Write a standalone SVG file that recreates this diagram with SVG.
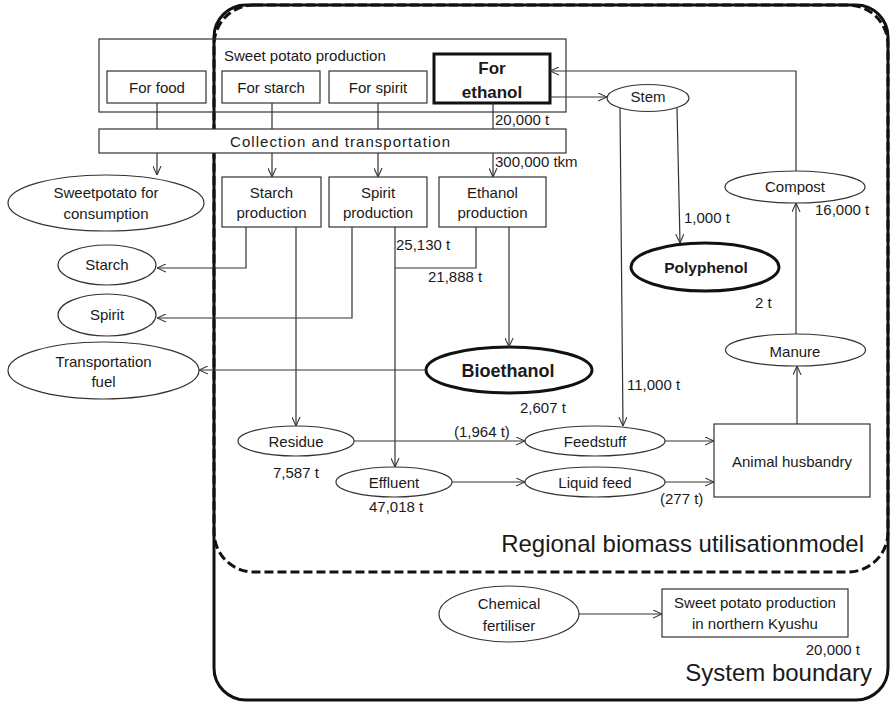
<svg xmlns="http://www.w3.org/2000/svg" width="891" height="703" viewBox="0 0 891 703">
<style>
text{font-family:"Liberation Sans",Arial,sans-serif;font-size:15px;fill:#1a1a1a}
.c{text-anchor:middle}
.b{font-weight:bold}
.big{font-size:24px;text-anchor:end}
.box{fill:#fff;stroke:#333;stroke-width:1.2}
.thick{fill:#fff;stroke:#111;stroke-width:3}
.ell{fill:#fff;stroke:#333;stroke-width:1.2}
.ln{fill:none;stroke:#333;stroke-width:1.2}
.ar{marker-end:url(#arr)}
</style>
<defs>
<marker id="arr" viewBox="0 0 10 10" refX="10" refY="5" markerWidth="9" markerHeight="9" markerUnits="userSpaceOnUse" orient="auto">
<path d="M0,0.5 L10,5 L0,9.5" fill="none" stroke="#333" stroke-width="1.2"/>
</marker>
</defs>

<g id="boundaries">
<rect x="214" y="5" width="674" height="695" rx="32" fill="none" stroke="#111" stroke-width="3"/>
<rect x="214" y="5" width="674" height="567" rx="40" fill="none" stroke="#111" stroke-width="3" stroke-dasharray="9 4"/>
<text class="big" x="864" y="552">Regional biomass utilisationmodel</text>
<text class="big" x="872" y="681">System boundary</text>
</g>

<g id="sweet-potato-production">
<rect x="99" y="39" width="467" height="73" fill="none" stroke="#333" stroke-width="1.2"/>
<text x="224" y="61">Sweet potato production</text>
</g>
<g id="for-food"><rect class="box" x="107" y="71" width="99" height="32"/><text class="c" x="157" y="93">For food</text></g>
<g id="for-starch"><rect class="box" x="222" y="71" width="98" height="32"/><text class="c" x="271" y="93">For starch</text></g>
<g id="for-spirit"><rect class="box" x="329" y="71" width="98" height="32"/><text class="c" x="378" y="93">For spirit</text></g>
<g id="for-ethanol"><rect class="thick" x="434" y="54" width="116" height="49"/><text class="c b" x="492" y="74" style="font-size:17px">For</text><text class="c b" x="492" y="98" style="font-size:17px">ethanol</text></g>

<g id="collection"><rect class="box" x="99" y="129" width="467" height="24"/><text class="c" x="340" y="147" textLength="220">Collection and transportation</text></g>

<g id="sweetpotato-consumption"><ellipse class="ell" cx="106" cy="203" rx="98" ry="28"/><text class="c" x="106" y="198">Sweetpotato for</text><text class="c" x="106" y="219">consumption</text></g>
<g id="starch-production"><rect class="box" x="222" y="177" width="99" height="50"/><text class="c" x="271.5" y="198">Starch</text><text class="c" x="271.5" y="218">production</text></g>
<g id="spirit-production"><rect class="box" x="329" y="177" width="98" height="50"/><text class="c" x="378" y="198">Spirit</text><text class="c" x="378" y="218">production</text></g>
<g id="ethanol-production"><rect class="box" x="439" y="177" width="107" height="50"/><text class="c" x="492.5" y="198">Ethanol</text><text class="c" x="492.5" y="218">production</text></g>

<g id="starch"><ellipse class="ell" cx="107" cy="265" rx="49" ry="20"/><text class="c" x="107" y="270">Starch</text></g>
<g id="spirit"><ellipse class="ell" cx="107" cy="315" rx="49" ry="21"/><text class="c" x="107" y="320">Spirit</text></g>
<g id="transportation-fuel"><ellipse class="ell" cx="103.5" cy="370.5" rx="95.5" ry="28.5"/><text class="c" x="103.5" y="367">Transportation</text><text class="c" x="103.5" y="387">fuel</text></g>

<g id="stem"><ellipse class="ell" cx="648" cy="98" rx="41" ry="13.5"/><text class="c" x="648" y="102">Stem</text></g>
<g id="compost"><ellipse class="ell" cx="795" cy="187" rx="70" ry="16"/><text class="c" x="795" y="192">Compost</text></g>
<g id="polyphenol"><ellipse class="thick" cx="705" cy="267" rx="74" ry="24"/><text class="c b" x="706" y="273" style="font-size:15.5px">Polyphenol</text></g>
<g id="bioethanol"><ellipse class="thick" cx="509" cy="370" rx="83" ry="23"/><text class="c b" x="508" y="377" style="font-size:18px">Bioethanol</text></g>
<g id="manure"><ellipse class="ell" cx="795.5" cy="350" rx="70" ry="16"/><text class="c" x="795" y="357">Manure</text></g>
<g id="residue"><ellipse class="ell" cx="296" cy="441" rx="58" ry="15"/><text class="c" x="296" y="447">Residue</text></g>
<g id="feedstuff"><ellipse class="ell" cx="595" cy="441" rx="70" ry="15"/><text class="c" x="595" y="447">Feedstuff</text></g>
<g id="effluent"><ellipse class="ell" cx="394" cy="482" rx="58" ry="15"/><text class="c" x="394" y="488">Effluent</text></g>
<g id="liquid-feed"><ellipse class="ell" cx="595" cy="482" rx="70" ry="15"/><text class="c" x="595" y="488">Liquid feed</text></g>
<g id="animal-husbandry"><rect class="box" x="714" y="424" width="156" height="73"/><text class="c" x="792" y="467">Animal husbandry</text></g>

<g id="chemical-fertiliser"><ellipse class="ell" cx="509" cy="614" rx="70" ry="28"/><text class="c" x="509" y="609">Chemical</text><text class="c" x="509" y="631">fertiliser</text></g>
<g id="kyushu-production"><rect class="box" x="662" y="589" width="186" height="48"/><text class="c" x="755" y="608">Sweet potato production</text><text class="c" x="755" y="629">in northern Kyushu</text></g>

<g id="connectors">
<path class="ln" d="M157,103 V129 M272,103 V129 M378,103 V129 M493,103 V129"/>
<path class="ln ar" d="M157,153 V175"/>
<path class="ln ar" d="M272,153 V177"/>
<path class="ln ar" d="M378,153 V177"/>
<path class="ln ar" d="M493,153 V177"/>
<path class="ln ar" d="M246,227 V268 H157"/>
<path class="ln ar" d="M352,227 V318 H157"/>
<path class="ln ar" d="M296,227 V426"/>
<path class="ln ar" d="M395,227 V467"/>
<path class="ln" d="M476,227 V268 H395"/>
<path class="ln ar" d="M509,227 V347"/>
<path class="ln ar" d="M426,370 H199"/>
<path class="ln ar" d="M550,97 H607"/>
<path class="ln ar" d="M677,108 L680,243"/>
<path class="ln ar" d="M620,108 L623,426"/>
<path class="ln ar" d="M354,441 H525"/>
<path class="ln ar" d="M452,482 H525"/>
<path class="ln ar" d="M665,441 H714"/>
<path class="ln ar" d="M665,482 H714"/>
<path class="ln ar" d="M797,424 V366"/>
<path class="ln ar" d="M796,334 V203"/>
<path class="ln ar" d="M796,171 V71 H550"/>
<path class="ln ar" d="M579,614 H662"/>
</g>

<g id="labels">
<text x="495" y="125">20,000 t</text>
<text x="495" y="167">300,000 tkm</text>
<text x="815" y="215">16,000 t</text>
<text x="684" y="223">1,000 t</text>
<text x="755" y="308">2 t</text>
<text x="396" y="250">25,130 t</text>
<text x="428" y="282">21,888 t</text>
<text x="520" y="413">2,607 t</text>
<text x="627" y="390">11,000 t</text>
<text x="454" y="437">(1,964 t)</text>
<text x="273" y="478">7,587 t</text>
<text x="369" y="512">47,018 t</text>
<text x="660" y="504">(277 t)</text>
<text x="860" y="655" style="text-anchor:end">20,000 t</text>
</g>
</svg>
